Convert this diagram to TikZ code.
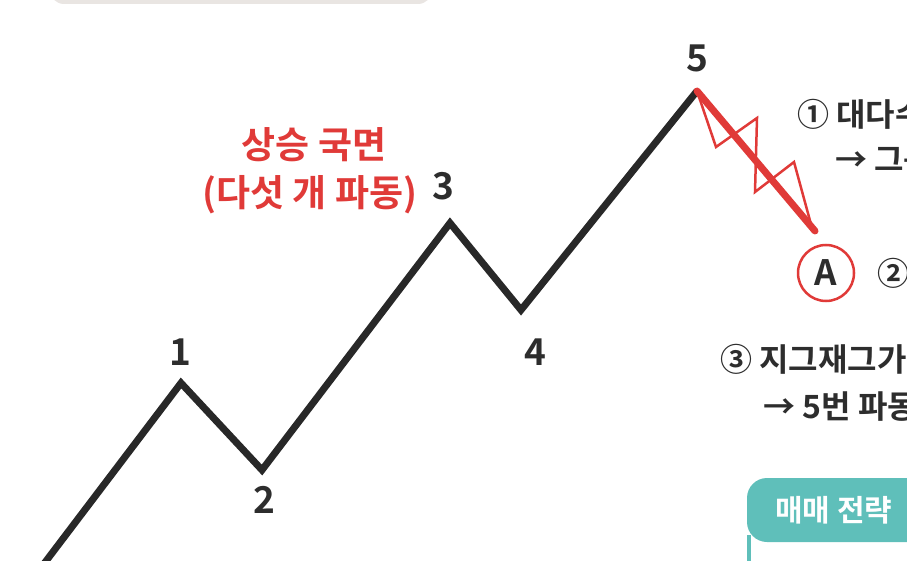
\documentclass[tikz,border=0pt]{standalone}
\usepackage{fontspec}
\setmainfont{Noto Sans CJK KR}[BoldFont={Noto Sans CJK KR Bold}]
\definecolor{wavered}{RGB}{224,58,56}
\definecolor{darktxt}{RGB}{45,45,45}
\definecolor{teal1}{RGB}{95,191,186}
\definecolor{greybox}{RGB}{233,229,226}
\tikzset{
  wave/.style={line width=7pt, draw=darktxt!90!black, line join=miter, line cap=butt},
  wavenum/.style={font=\fontsize{37}{37}\selectfont\bfseries, text=darktxt, inner sep=0pt},
  redtxt/.style={font=\fontsize{37}{40}\selectfont\bfseries, text=wavered, inner sep=0pt},
  sidetxt/.style={font=\fontsize{32}{34}\selectfont\bfseries, text=darktxt, inner sep=0pt, anchor=west},
}
\begin{document}
\begin{tikzpicture}[x=1pt,y=-1pt]
\useasboundingbox (0,0) rectangle (907,561);
\clip (0,0) rectangle (907,561);
% top grey box
\fill[greybox, rounded corners=14pt] (50,-40) rectangle (432,4);
% wave points
\coordinate (p0) at (40,569);
\coordinate (p1) at (181,383);
\coordinate (p2) at (262,470);
\coordinate (p3) at (450,223);
\coordinate (p4) at (521,310);
\coordinate (p5) at (697,91);
\coordinate (pa) at (815,231);
\draw[wave] (p0) -- (p1) -- (p2) -- (p3) -- (p4) -- (p5);
% red A wave
\coordinate (s1) at (716,147);
\coordinate (s2) at (757,118);
\coordinate (s3) at (755,192);
\coordinate (s4) at (794,162);
\coordinate (s5) at (812,228);
\draw[wavered, line width=2.5pt, line join=miter] (p5) -- (s1) -- (s2) -- (s3) -- (s4) -- (s5);
\draw[wavered, line width=7pt, line cap=round] (p5) -- (pa);
% labels
\node[wavenum] (n1) at (180,352) {1};
\node[wavenum] (n2) at (264,500) {2};
\node[wavenum] (n3) at (443,186) {3};
\node[wavenum] (n4) at (535,352) {4};
\node[wavenum] (n5) at (697,58) {5};
\node[redtxt] (t1) at (314,145) {상승 국면};
\node[redtxt] (t2) at (310,195) {(다섯 개 파동)};
% circle A
\node[circle, draw=wavered, line width=2.5pt, minimum size=56pt, inner sep=0pt,
      font=\fontsize{35}{35}\selectfont\bfseries, text=darktxt] (cA) at (826,273) {A};
% side texts
\node[sidetxt] (r1) at (797,114) {① 대다수};
\node[sidetxt] (r1b) at (835,160) {→ 그룹};
\node[sidetxt] (r2) at (877,273) {②};
\node[sidetxt] (r3) at (720,359) {③ 지그재그가};
\node[sidetxt] (r3b) at (763,407) {→ 5번 파동};
% strategy box
\draw[teal1, line width=4pt] (749,535) -- (749,600);
\fill[teal1, rounded corners=20pt] (747,542) -- (747,478) -- (960,478) -- (960,542) -- cycle;
\node[sidetxt, text=white, font=\fontsize{30}{32}\selectfont\bfseries] (sb) at (775,510) {매매 전략};
\end{tikzpicture}
\end{document}
